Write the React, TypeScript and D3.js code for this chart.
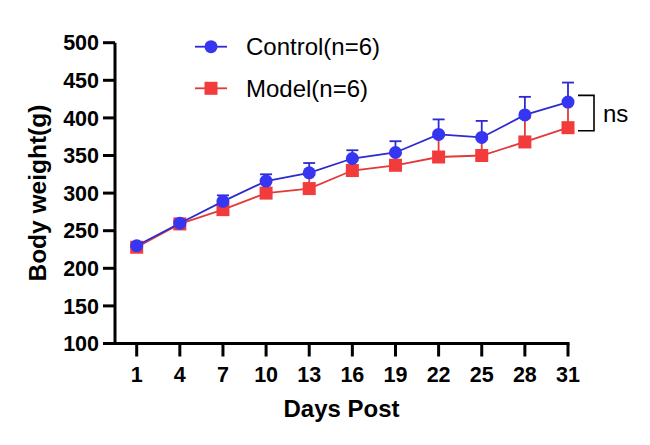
import React from "react";
import * as d3 from "d3";

// days of measurement
const days = [1, 4, 7, 10, 13, 16, 19, 22, 25, 28, 31];
const yTicks = [100, 150, 200, 250, 300, 350, 400, 450, 500];

// group means and SEM (g)
const controlMean = [230, 260, 289, 316, 327, 346, 354, 378, 374, 404, 421];
const controlSem = [3, 3, 8, 9, 13, 11, 15, 20, 22, 24, 26];
const modelMean = [228, 259, 278, 300, 306, 330, 337, 348, 350, 368, 387];
const modelSem = [3, 4, 9, 14, 18, 14, 15, 28, 22, 32, 32];

const series = [
  { name: "Control(n=6)", mean: controlMean, sem: controlSem, line: "#2b2bd0", fill: "#3535f2", shape: "circle" },
  { name: "Model(n=6)", mean: modelMean, sem: modelSem, line: "#e23a3a", fill: "#f23b3b", shape: "square" },
];

const W = 650;
const H = 445;
const font = "'Liberation Sans', Arial, Helvetica, sans-serif";

const Marker = ({ shape, x, y, fill }: { shape: string; x: number; y: number; fill: string }) =>
  shape === "circle" ? (
    <circle cx={x} cy={y} r={6.5} fill={fill} />
  ) : (
    <rect x={x - 6.5} y={y - 6.5} width={13} height={13} fill={fill} />
  );

export default function App() {
  const x = d3.scaleLinear().domain([1, 31]).range([136.7, 568]);
  const y = d3.scaleLinear().domain([100, 500]).range([343.5, 42.7]);
  const axisX = 115;
  const axisY = y(100);

  const line = d3
    .line<number>()
    .x((_, i) => x(days[i]))
    .y((d) => y(d));

  // draw model first so control sits on top
  const drawOrder = [series[1], series[0]];

  return (
    <svg
      width={W}
      height={H}
      style={{ position: "absolute", left: 0, top: 0, background: "#fff" }}
      fontFamily={font}
    >
      {/* axes */}
      <line x1={axisX} x2={axisX} y1={y(500)} y2={axisY + 1.5} stroke="#000" strokeWidth={3} />
      <line x1={axisX - 1.5} x2={x(31) + 1.5} y1={axisY} y2={axisY} stroke="#000" strokeWidth={3} />
      {yTicks.map((t) => (
        <g key={t}>
          <line x1={axisX - 12} x2={axisX} y1={y(t)} y2={y(t)} stroke="#000" strokeWidth={3} />
          <text x={axisX - 16} y={y(t)} dy="0.36em" textAnchor="end" fontSize={21.5} fontWeight="bold">
            {t}
          </text>
        </g>
      ))}
      {days.map((d) => (
        <g key={d}>
          <line x1={x(d)} x2={x(d)} y1={axisY} y2={axisY + 13} stroke="#000" strokeWidth={3} />
          <text x={x(d)} y={381.7} textAnchor="middle" fontSize={21.5} fontWeight="bold">
            {d}
          </text>
        </g>
      ))}
      <text x={(axisX + x(31)) / 2} y={416.5} textAnchor="middle" fontSize={24} fontWeight="bold">
        Days Post
      </text>
      <text
        transform={`translate(45.5,${(y(500) + axisY) / 2}) rotate(-90)`}
        textAnchor="middle"
        fontSize={24.5}
        fontWeight="bold"
      >
        Body weight(g)
      </text>

      {/* error bars (upper only) */}
      {drawOrder.map((s) => (
        <g key={s.name + "err"}>
          {days.map((d, i) => {
            const top = y(s.mean[i] + s.sem[i]);
            return (
              <g key={d} stroke={s.line} strokeWidth={1.8}>
                <line x1={x(d)} x2={x(d)} y1={y(s.mean[i])} y2={top} />
                <line x1={x(d) - 6} x2={x(d) + 6} y1={top} y2={top} />
              </g>
            );
          })}
        </g>
      ))}

      {/* lines and markers */}
      {drawOrder.map((s) => (
        <g key={s.name}>
          <path d={line(s.mean) as string} fill="none" stroke={s.line} strokeWidth={1.8} />
          {days.map((d, i) => (
            <Marker key={d} shape={s.shape} x={x(d)} y={y(s.mean[i])} fill={s.fill} />
          ))}
        </g>
      ))}

      {/* legend */}
      {series.map((s, i) => {
        const ly = 46.7 + i * 41.6;
        return (
          <g key={s.name + "leg"}>
            <line x1={195} x2={227} y1={ly} y2={ly} stroke={s.line} strokeWidth={1.8} />
            <Marker shape={s.shape} x={211} y={ly} fill={s.fill} />
            <text x={246} y={ly} dy="0.36em" fontSize={24}>
              {s.name}
            </text>
          </g>
        );
      })}

      {/* significance bracket */}
      <path
        d={`M578,${y(430)}H594V${y(383)}H578`}
        fill="none"
        stroke="#000"
        strokeWidth={1.6}
      />
      <text x={603} y={122} fontSize={24}>
        ns
      </text>
    </svg>
  );
}
